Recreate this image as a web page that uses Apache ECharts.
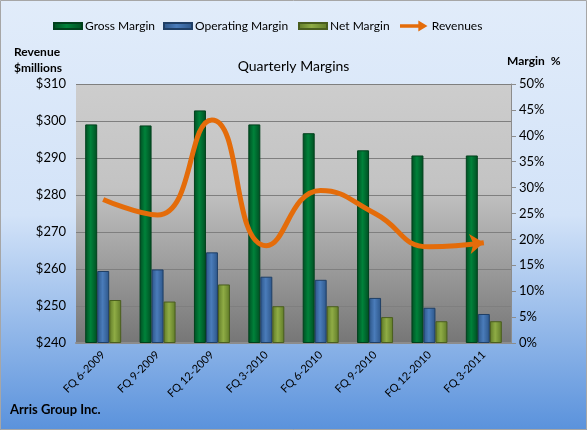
<!DOCTYPE html>
<html>
<head>
<meta charset="utf-8">
<script src="https://cdn.jsdelivr.net/npm/echarts@6/dist/echarts.min.js"></script>
<style>
  html, body { margin: 0; padding: 0; }
  #chart { width: 587px; height: 430px; }
</style>
</head>
<body>
<div id="chart"></div>
<script>
const quarters = ['FQ 6-2009', 'FQ 9-2009', 'FQ 12-2009', 'FQ 3-2010', 'FQ 6-2010', 'FQ 9-2010', 'FQ 12-2010', 'FQ 3-2011'];
const grossMargin = [42.2, 42.0, 44.9, 42.2, 40.5, 37.2, 36.2, 36.2];
const operatingMargin = [13.9, 14.2, 17.5, 12.8, 12.2, 8.7, 6.8, 5.6];
const netMargin = [8.3, 8.0, 11.3, 7.1, 7.1, 5.0, 4.2, 4.2];
const revenues = [278.8, 274.6, 300.3, 266.3, 281.2, 275.0, 266.0, 267.1];

const font = 'Lato, "Open Sans", sans-serif';

// cylinder-ish horizontal shading for the bars
const barFill = (dark, mid) => new echarts.graphic.LinearGradient(0, 0, 1, 0, [
  { offset: 0, color: dark },
  { offset: 0.45, color: mid },
  { offset: 1, color: dark },
]);

const revData = revenues.map((v, i) => {
  if (i === revenues.length - 1) {
    return { value: v, symbol: 'arrow', symbolSize: [15, 14], symbolRotate: -85, itemStyle: { color: '#e46c0a' } };
  }
  return v;
});

const legendText = { fontSize: 12, color: '#000', fontFamily: font, padding: [0, 0, 0, -2] };
const barLegend = (name, left) => ({
  data: [name],
  left: left,
  top: 15,
  icon: 'rect',
  itemWidth: 28,
  itemHeight: 6,
  textStyle: legendText,
});

const chart = echarts.init(document.getElementById('chart'));

const option = {
  backgroundColor: new echarts.graphic.LinearGradient(0, 0, 0, 1, [
    { offset: 0, color: '#e1ecfa' },
    { offset: 0.5, color: '#d3e3f8' },
    { offset: 1, color: '#5a92dc' },
  ]),
  animation: false,
  textStyle: { fontFamily: font },
  title: {
    text: 'Quarterly Margins',
    left: 'center',
    top: 54,
    textStyle: { fontSize: 14, fontWeight: 'normal', color: '#000', fontFamily: font },
  },
  graphic: [
    {
      type: 'rect',
      shape: { x: 0.5, y: 0.5, width: 586, height: 429 },
      style: { fill: 'none', stroke: '#a6a6a6', lineWidth: 1 },
      silent: true,
    },
    {
      type: 'text', left: 14, top: 44,
      style: { text: 'Revenue\n$millions', font: 'bold 12px ' + font, fill: '#000', lineHeight: 16 },
    },
    {
      type: 'text', left: 507, top: 55,
      style: { text: 'Margin  %', font: 'bold 12px ' + font, fill: '#000' },
    },
    {
      type: 'text', left: 10, top: 403,
      style: { text: 'Arris Group Inc.', font: 'bold 13px ' + font, fill: '#000' },
    },
  ],
  legend: [
    barLegend('Gross Margin', 48),
    barLegend('Operating Margin', 158),
    barLegend('Net Margin', 293),
    {
      data: [{ name: 'Revenues', icon: 'path://M0,4 L20,4 L20,0 L30,6 L20,12 L20,8 L0,8 Z' }],
      left: 395,
      top: 15,
      itemWidth: 30,
      itemHeight: 11,
      textStyle: legendText,
    },
  ],
  grid: {
    left: 76,
    right: 76,
    top: 84,
    bottom: 87,
    show: true,
    borderWidth: 0,
    backgroundColor: new echarts.graphic.LinearGradient(0, 0, 0, 1, [
      { offset: 0, color: '#cdcdcd' },
      { offset: 0.4, color: '#c3c3c3' },
      { offset: 1, color: '#767676' },
    ]),
  },
  xAxis: {
    type: 'category',
    data: quarters,
    axisLine: { show: true, lineStyle: { color: '#8c8c8c', width: 2 } },
    axisTick: { show: false },
    axisLabel: { rotate: 45, fontSize: 11, color: '#000', margin: 10, fontFamily: font },
  },
  yAxis: [
    {
      type: 'value',
      min: 240,
      max: 310,
      interval: 10,
      axisLine: { show: false },
      axisTick: { show: false },
      axisLabel: { formatter: '${value}', fontSize: 13, color: '#000', margin: 10, fontFamily: font },
      splitLine: { lineStyle: { color: '#7f7f7f', width: 1 } },
    },
    {
      type: 'value',
      min: 0,
      max: 50,
      interval: 5,
      position: 'right',
      axisLine: { show: true, lineStyle: { color: '#8c8c8c' } },
      axisTick: { show: true, length: 5, lineStyle: { color: '#8c8c8c' } },
      axisLabel: { formatter: '{value}%', fontSize: 13, color: '#000', margin: 8, fontFamily: font },
      splitLine: { show: false },
    },
  ],
  series: [
    {
      name: 'Gross Margin',
      type: 'bar',
      yAxisIndex: 1,
      data: grossMargin,
      barWidth: 12,
      barGap: '0%',
      itemStyle: { color: barFill('#004d22', '#00823a'), borderColor: '#00401c', borderWidth: 1 },
    },
    {
      name: 'Operating Margin',
      type: 'bar',
      yAxisIndex: 1,
      data: operatingMargin,
      barWidth: 12,
      barGap: '0%',
      itemStyle: { color: barFill('#2c5588', '#4a7cba'), borderColor: '#1f3f66', borderWidth: 1 },
    },
    {
      name: 'Net Margin',
      type: 'bar',
      yAxisIndex: 1,
      data: netMargin,
      barWidth: 12,
      barGap: '0%',
      itemStyle: { color: barFill('#5f7a28', '#8fac45'), borderColor: '#4a5e1e', borderWidth: 1 },
    },
    {
      name: 'Revenues',
      type: 'line',
      yAxisIndex: 0,
      data: revData,
      smooth: 0.5,
      symbol: 'none',
      z: 5,
      lineStyle: { color: '#e46c0a', width: 5 },
      itemStyle: { color: '#e46c0a' },
    },
  ],
};

chart.setOption(option);
</script>
</body>
</html>
